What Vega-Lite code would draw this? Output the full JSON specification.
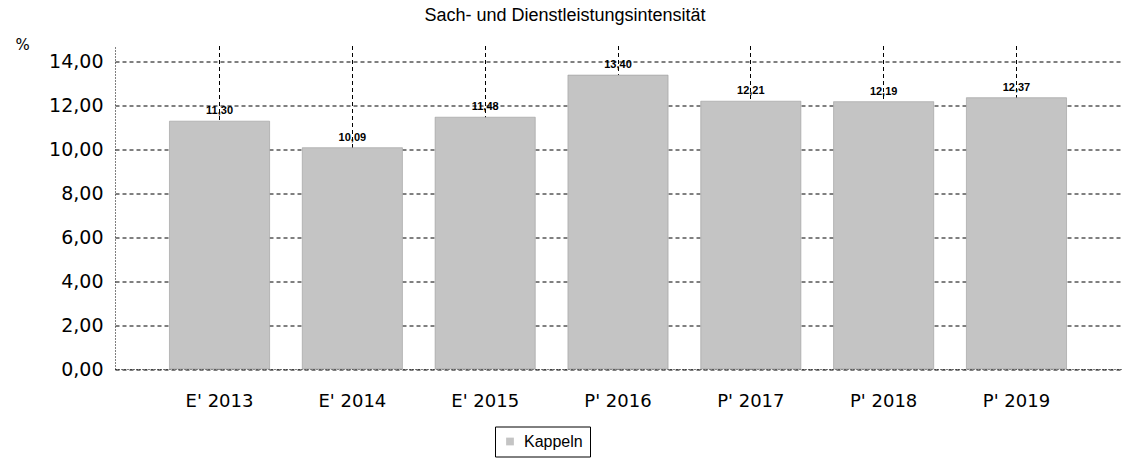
{
  "$schema": "https://vega.github.io/schema/vega-lite/v6.json",
  "autosize": "none",
  "width": 1006,
  "height": 323.5,
  "padding": {"left": 115, "top": 45.5, "right": 2, "bottom": 90},
  "background": "white",
  "title": {
    "text": "Sach- und Dienstleistungsintensität",
    "font": "Liberation Sans",
    "fontSize": 18,
    "fontWeight": "normal",
    "color": "black",
    "anchor": "middle",
    "dx": -53,
    "offset": 13
  },
  "config": {
    "locale": {"number": {"decimal": ",", "thousands": ".", "grouping": [3], "currency": ["", " €"]}},
    "view": {"stroke": null},
    "axis": {"labelColor": "black", "titleColor": "black"}
  },
  "data": {
    "values": [
      {"jahr": "E' 2013", "wert": 11.30, "ort": "Kappeln"},
      {"jahr": "E' 2014", "wert": 10.09, "ort": "Kappeln"},
      {"jahr": "E' 2015", "wert": 11.48, "ort": "Kappeln"},
      {"jahr": "P' 2016", "wert": 13.40, "ort": "Kappeln"},
      {"jahr": "P' 2017", "wert": 12.21, "ort": "Kappeln"},
      {"jahr": "P' 2018", "wert": 12.19, "ort": "Kappeln"},
      {"jahr": "P' 2019", "wert": 12.37, "ort": "Kappeln"}
    ]
  },
  "encoding": {
    "x": {
      "field": "jahr",
      "type": "nominal",
      "sort": null,
      "scale": {"paddingInner": 0.246, "paddingOuter": 0.41},
      "axis": {
        "title": null,
        "labelAngle": 0,
        "labelFont": "DejaVu Sans",
        "labelFontSize": 18,
        "labelPadding": 23,
        "ticks": false,
        "domain": true,
        "domainColor": "black",
        "domainDash": [1, 2],
        "domainWidth": 1,
        "grid": true,
        "gridColor": "black",
        "gridDash": [4, 3],
        "gridWidth": 1,
        "bandPosition": 0.5
      }
    },
    "y": {
      "field": "wert",
      "type": "quantitative",
      "scale": {"domain": [0, 14.75], "nice": false},
      "axis": {
        "title": "%",
        "titleAngle": 0,
        "titleX": -100,
        "titleY": -1,
        "titleAlign": "left",
        "titleBaseline": "middle",
        "titleFont": "DejaVu Sans",
        "titleFontSize": 15,
        "titleFontWeight": "normal",
        "values": [0, 2, 4, 6, 8, 10, 12, 14],
        "format": ".2f",
        "labelFont": "DejaVu Sans",
        "labelFontSize": 19,
        "labelPadding": 12,
        "ticks": false,
        "domain": true,
        "domainColor": "black",
        "domainDash": [1, 2],
        "domainWidth": 1,
        "grid": true,
        "gridColor": "black",
        "gridDash": [4, 3],
        "gridWidth": 1
      }
    }
  },
  "layer": [
    {
      "mark": {"type": "bar", "stroke": "#9a9a9a", "strokeWidth": 0.6},
      "encoding": {
        "color": {
          "field": "ort",
          "type": "nominal",
          "scale": {"range": ["#c4c4c4"]},
          "legend": {
            "title": null,
            "orient": "none",
            "legendX": 380,
            "legendY": 381,
            "strokeColor": "black",
            "padding": 7,
            "symbolType": "square",
            "symbolSize": 60,
            "symbolStrokeWidth": 0,
            "labelOffset": 6,
            "labelFont": "Liberation Sans",
            "labelFontSize": 16,
            "labelColor": "black"
          }
        }
      }
    },
    {
      "mark": {
        "type": "text",
        "font": "Liberation Sans",
        "fontSize": 11,
        "fontWeight": "bold",
        "baseline": "bottom",
        "dy": -5,
        "color": "black"
      },
      "encoding": {
        "text": {"field": "wert", "type": "quantitative", "format": ".2f"}
      }
    }
  ]
}
